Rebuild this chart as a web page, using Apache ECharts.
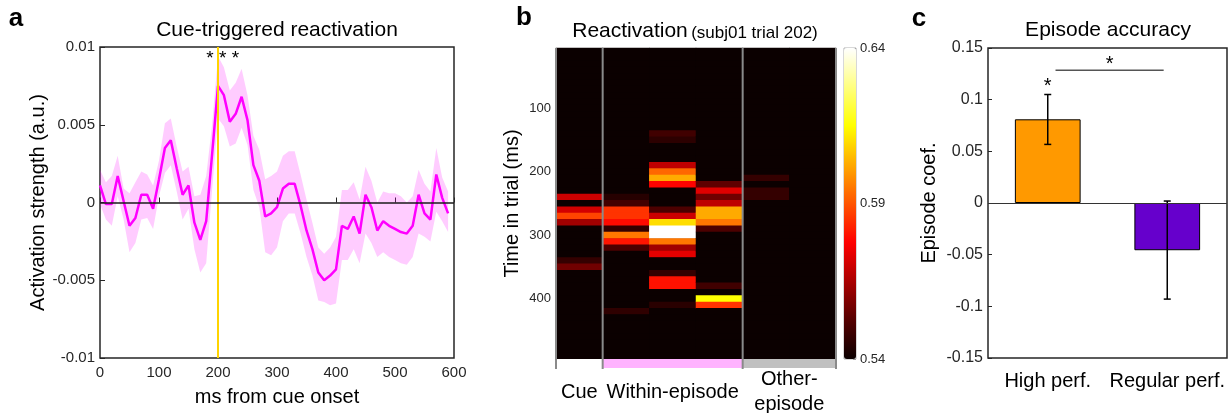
<!DOCTYPE html>
<html><head><meta charset="utf-8">
<script src="https://cdn.jsdelivr.net/npm/echarts@6/dist/echarts.min.js"></script>
<style>html,body{margin:0;padding:0;background:#fff}#c{width:1231px;height:413px}</style>
</head><body><div id="c"></div>
<script>
// ---------- Panel a: cue-triggered reactivation ----------
const timesMs = [0,10,20,30,40,50,60,70,80,90,100,110,120,130,140,150,160,170,180,190,200,210,220,230,240,250,260,270,280,290,300,310,320,330,340,350,360,370,380,390,400,410,420,430,440,450,460,470,480,490,500,510,520,530,540,550,560,570,580,590];
const meanAct = [0.0011,-0.0001,-0.0001,0.0017,0.0001,-0.0015,-0.0010,0.0005,0.0005,-0.0004,0.0015,0.0035,0.0040,0.0022,0.0005,0.0011,-0.0013,-0.0024,-0.0012,0.0031,0.0075,0.0069,0.0052,0.0057,0.0068,0.0053,0.0024,0.0014,-0.0009,-0.0007,-0.0003,0.0009,0.0012,0.0012,-0.0002,-0.0018,-0.0030,-0.0045,-0.0050,-0.0047,-0.0043,-0.0015,-0.0017,-0.0009,-0.0020,0.0005,-0.0003,-0.0018,-0.0012,-0.0015,-0.0017,-0.0019,-0.0020,-0.0015,0.0005,-0.0007,-0.0011,0.0018,0.0003,-0.0007];
const upperAct = [0.0021,0.0013,0.0017,0.0030,0.0009,0.0006,0.0013,0.0020,0.0018,0.0011,0.0027,0.0051,0.0054,0.0036,0.0020,0.0023,0.0004,0.0005,0.0017,0.0050,0.0094,0.0087,0.0072,0.0077,0.0086,0.0069,0.0043,0.0034,0.0015,0.0017,0.0020,0.0030,0.0033,0.0033,0.0018,0.0002,-0.0013,-0.0029,-0.0033,-0.0029,-0.0022,0.0008,0.0008,0.0013,0.0002,0.0023,0.0014,0.0000,0.0007,0.0006,0.0006,0.0004,0.0000,0.0004,0.0021,0.0012,0.0007,0.0035,0.0016,0.0007];
const lowerAct = [-0.0001,-0.0011,-0.0015,0.0004,-0.0011,-0.0032,-0.0026,-0.0011,-0.0010,-0.0017,0.0004,0.0019,0.0024,0.0007,-0.0011,-0.0004,-0.0030,-0.0045,-0.0039,0.0008,0.0054,0.0049,0.0036,0.0038,0.0048,0.0037,0.0008,-0.0003,-0.0032,-0.0034,-0.0029,-0.0012,-0.0007,-0.0007,-0.0020,-0.0035,-0.0047,-0.0063,-0.0064,-0.0066,-0.0065,-0.0037,-0.0037,-0.0030,-0.0039,-0.0020,-0.0026,-0.0035,-0.0032,-0.0035,-0.0037,-0.0039,-0.0040,-0.0035,-0.0020,-0.0022,-0.0025,-0.0006,-0.0012,-0.0019];
const cueOnsetMs = 200;
const sigMarkA = {ms: 208, value: 0.00925, text: '* * *'};

// ---------- Panel b: reactivation heatmap ----------
const hmColumns = ['cue','within1','within2','within3','other1','other2'];
const hmTimes = [10,20,30,40,50,60,70,80,90,100,110,120,130,140,150,160,170,180,190,200,210,220,230,240,250,260,270,280,290,300,310,320,330,340,350,360,370,380,390,400,410,420,430,440,450,460,470,480,490];
const hmBase = 0.54; // background cells (at / below colour minimum)
const hmCells = [ // [column, time ms, value]
  [0,240,0.570],[0,260,0.571],[0,270,0.5875],[0,280,0.5635],[0,340,0.547],[0,350,0.5565],
  [1,240,0.5445],[1,250,0.5494],[1,260,0.585],[1,270,0.585],[1,280,0.579],[1,290,0.547],[1,300,0.595],[1,310,0.5805],[1,320,0.551],[1,420,0.546],
  [2,140,0.549],[2,150,0.5455],[2,190,0.568],[2,200,0.5925],[2,210,0.6025],[2,220,0.578],[2,260,0.551],[2,270,0.570],[2,280,0.610],[2,290,0.64],[2,300,0.64],[2,310,0.595],[2,320,0.5635],[2,330,0.5735],[2,360,0.547],[2,370,0.58],[2,380,0.58],[2,410,0.545],
  [3,220,0.554],[3,230,0.573],[3,240,0.5565],[3,250,0.568],[3,260,0.6025],[3,270,0.6025],[3,280,0.595],[3,290,0.551],[3,380,0.549],[3,400,0.615],[3,410,0.585],
  [4,210,0.547],[4,230,0.547],[4,240,0.547]
];
const hmMin = 0.54, hmMax = 0.64;
const cbLabels = [0.54, 0.59, 0.64];
const groupLabels = ['Cue','Within-episode','Other-\nepisode'];
const groupBounds = [0,1,4,6];

// ---------- Panel c: episode accuracy ----------
const perfCats = ['High perf.','Regular perf.'];
const perfMean = [0.081,-0.0457];
const perfLow = [0.0567,-0.093];
const perfHigh = [0.105,0.0019];
const perfStarY = 0.113;
const perfSigLineY = 0.1284;

// ---------- build ----------
const hmData = [];
hmColumns.forEach((c, ci) => hmTimes.forEach((t, ri) => hmData.push([ci, ri, hmBase])));
hmCells.forEach(([c, t, v]) => { hmData[c * hmTimes.length + hmTimes.indexOf(t)][2] = v; });
const groupCenters = groupBounds.slice(0, -1).map((b, i) => (b + groupBounds[i + 1]) / 2);
const stripData = groupBounds.slice(0, -1).map((b, i) => [b, groupBounds[i + 1], i]);
const stripColors = ['#ffffff', '#ffb3ff', '#c0c0c0'];
const hot = ['#0b0000','#550000','#aa0000','#ff0000','#ff5500','#ffaa00','#ffff00','#ffff80','#ffffff'];

const FONT = 'Liberation Sans, Arial, Helvetica, sans-serif';
const AX = '#262626';
const tickLbl = (size) => ({color: AX, fontSize: size, fontFamily: FONT});

const chart = echarts.init(document.getElementById('c'), null, {renderer: 'canvas'});
chart.setOption({
  animation: false,
  textStyle: {fontFamily: FONT},
  grid: [
    {left: 100, top: 47, width: 354, height: 311, show: true, borderColor: AX, borderWidth: 1.5, backgroundColor: 'transparent', outerBoundsMode: 'none'},
    {left: 556, top: 48, width: 280, height: 311, show: true, borderWidth: 0, backgroundColor: hot[0], outerBoundsMode: 'none'},
    {left: 556, top: 359, width: 280, height: 9, outerBoundsMode: 'none'},
    {left: 844, top: 48, width: 12, height: 311, show: true, borderColor: '#b0b0b0', borderWidth: 1, backgroundColor: 'transparent', outerBoundsMode: 'none'},
    {left: 988, top: 48, width: 239, height: 310, show: true, borderColor: AX, borderWidth: 1.5, backgroundColor: 'transparent', outerBoundsMode: 'none'}
  ],
  xAxis: [
    {type: 'value', gridIndex: 0, min: 0, max: 600, interval: 100, axisLine: {show: false},
     axisTick: {inside: true, length: 5, lineStyle: {color: AX}}, splitLine: {show: false},
     axisLabel: {...tickLbl(15), margin: 7},
     name: 'ms from cue onset', nameLocation: 'middle', nameGap: 29, nameTextStyle: {fontSize: 20, color: '#000', fontFamily: FONT}},
    {type: 'category', gridIndex: 1, data: hmColumns, show: false, splitLine: {show: false}},
    {type: 'value', gridIndex: 1, min: 0, max: 6, show: false, splitLine: {show: false}},
    {type: 'value', gridIndex: 2, min: 0, max: 6, interval: 0.5, axisLine: {show: false}, axisTick: {show: false}, splitLine: {show: false},
     axisLabel: {...tickLbl(20), color: '#000', margin: 24, verticalAlign: 'middle', lineHeight: 25, showMinLabel: true, showMaxLabel: true,
       formatter: v => { const i = groupCenters.findIndex(c => Math.abs(c - v) < 1e-6); return i >= 0 ? groupLabels[i] : ''; }}},
    {type: 'category', gridIndex: 3, data: [''], show: false, splitLine: {show: false}},
    {type: 'category', gridIndex: 4, data: perfCats, axisLine: {show: false}, splitLine: {show: false},
     axisTick: {inside: true, length: 4, alignWithLabel: true, lineStyle: {color: AX}},
     axisLabel: {...tickLbl(20), color: '#000', margin: 13, interval: 0, hideOverlap: false}}
  ],
  yAxis: [
    {type: 'value', gridIndex: 0, min: -0.01, max: 0.01, interval: 0.005, axisLine: {show: false},
     axisTick: {show: true, inside: true, length: 5, lineStyle: {color: AX}}, splitLine: {show: false},
     axisLabel: {...tickLbl(15), margin: 5, formatter: v => String(parseFloat(v.toFixed(4)))},
     name: 'Activation strength (a.u.)', nameLocation: 'middle', nameGap: 49, nameTextStyle: {fontSize: 20, color: '#000', fontFamily: FONT}},
    {type: 'category', gridIndex: 1, data: hmTimes.map(String), inverse: true, axisLine: {show: false}, axisTick: {show: false}, splitLine: {show: false},
     axisLabel: {...tickLbl(13), margin: 5, interval: (i, v) => Number(v) % 100 === 0},
     name: 'Time in trial (ms)', nameLocation: 'middle', nameGap: 34, nameTextStyle: {fontSize: 20, color: '#000', fontFamily: FONT}},
    {type: 'value', gridIndex: 1, min: 0, max: 1, show: false, splitLine: {show: false}},
    {type: 'value', gridIndex: 2, min: 0, max: 1, show: false, splitLine: {show: false}},
    {type: 'value', gridIndex: 3, min: hmMin, max: hmMax, interval: 0.01, position: 'right', axisLine: {show: false},
     axisTick: {show: true, inside: true, length: 3, lineStyle: {color: '#999'}}, splitLine: {show: false},
     axisLabel: {...tickLbl(13), margin: 4, showMinLabel: true, showMaxLabel: true,
       formatter: v => cbLabels.some(x => Math.abs(x - v) < 1e-6) ? v.toFixed(2) : ''}},
    {type: 'value', gridIndex: 4, min: -0.15, max: 0.15, interval: 0.05, axisLine: {show: false},
     axisTick: {show: true, inside: true, length: 4, lineStyle: {color: AX}}, splitLine: {show: false},
     axisLabel: {...tickLbl(16), margin: 5, formatter: v => String(parseFloat(v.toFixed(3)))},
     name: 'Episode coef.', nameLocation: 'middle', nameGap: 49, nameTextStyle: {fontSize: 20, color: '#000', fontFamily: FONT}}
  ],
  visualMap: [{
    type: 'continuous', seriesIndex: 2, min: hmMin, max: hmMax, calculable: false, realtime: false,
    orient: 'vertical', left: 844, top: 48, itemWidth: 12, itemHeight: 311, padding: 0, text: null,
    inRange: {color: hot}, hoverLink: false
  }],
  series: [
    { // SEM band + reference lines
      type: 'custom', xAxisIndex: 0, yAxisIndex: 0, silent: true, z: 1,
      data: timesMs.map((t, i) => [t, lowerAct[i], upperAct[i]]),
      encode: {x: 0, y: [1, 2]},
      renderItem: (params, api) => {
        if (params.dataIndex !== 0) return null;
        const top = timesMs.map((t, i) => api.coord([t, upperAct[i]]));
        const bot = timesMs.map((t, i) => api.coord([t, lowerAct[i]])).reverse();
        return {type: 'polygon', shape: {points: top.concat(bot)}, style: {fill: 'rgba(255,0,255,0.2)', stroke: 'none'}};
      },
      markLine: {silent: true, symbol: ['none', 'none'], label: {show: false},
        data: [
          {xAxis: cueOnsetMs, lineStyle: {color: '#ffd400', width: 2, type: 'solid'}},
          {yAxis: 0, lineStyle: {color: '#1a1a1a', width: 1.5, type: 'solid'}}
        ]}
    },
    { // mean
      type: 'line', xAxisIndex: 0, yAxisIndex: 0, z: 3, silent: true, showSymbol: false, symbol: 'none',
      data: timesMs.map((t, i) => [t, meanAct[i]]),
      lineStyle: {color: '#ff00ff', width: 2.5},
      markPoint: {symbol: 'circle', symbolSize: 0, silent: true,
        label: {show: true, position: 'inside', formatter: sigMarkA.text, fontSize: 19, color: '#000', fontFamily: FONT},
        data: [{coord: [sigMarkA.ms, sigMarkA.value]}]}
    },
    { // heatmap
      type: 'heatmap', xAxisIndex: 1, yAxisIndex: 1, data: hmData, silent: true,
      emphasis: {disabled: true}, progressive: 0
    },
    { // group separators
      type: 'custom', xAxisIndex: 2, yAxisIndex: 2, silent: true, z: 5, clip: false,
      data: groupBounds.map(b => [b, 0, 1]),
      renderItem: (params, api) => {
        const a = api.coord([api.value(0), 0]), b = api.coord([api.value(0), 1]);
        return {type: 'line', shape: {x1: a[0], y1: a[1], x2: b[0], y2: b[1]}, style: {stroke: '#8a8a8a', lineWidth: 2}};
      }
    },
    { // group strip
      type: 'custom', xAxisIndex: 3, yAxisIndex: 3, silent: true, z: 5, clip: false,
      data: stripData,
      renderItem: (params, api) => {
        const p0 = api.coord([api.value(0), 1]), p1 = api.coord([api.value(1), 0]);
        const kids = [
          {type: 'rect', shape: {x: p0[0], y: p0[1], width: p1[0] - p0[0], height: p1[1] - p0[1]}, style: {fill: stripColors[api.value(2)]}},
          {type: 'line', shape: {x1: p0[0], y1: p0[1], x2: p0[0], y2: p1[1] + 1}, style: {stroke: '#8a8a8a', lineWidth: 2}}
        ];
        if (params.dataIndex === stripData.length - 1) kids.push({type: 'line', shape: {x1: p1[0], y1: p0[1], x2: p1[0], y2: p1[1] + 1}, style: {stroke: '#8a8a8a', lineWidth: 2}});
        return {type: 'group', children: kids};
      }
    },
    { // bars
      type: 'bar', xAxisIndex: 5, yAxisIndex: 5, barWidth: '55%', silent: true, z: 2,
      data: perfMean.map((v, i) => ({value: v, itemStyle: {color: i === 0 ? '#ff9900' : '#6600cc', borderColor: '#000', borderWidth: 1}})),
      markLine: {silent: true, symbol: ['none', 'none'], label: {show: false},
        data: [{yAxis: 0, lineStyle: {color: '#333', width: 1.2, type: 'solid'}}]},
      markPoint: {symbol: 'circle', symbolSize: 0, silent: true,
        label: {show: true, position: 'inside', formatter: '*', fontSize: 20, color: '#000', fontFamily: FONT},
        data: [{coord: [0, perfStarY]}]}
    },
    { // error bars
      type: 'custom', xAxisIndex: 5, yAxisIndex: 5, silent: true, z: 4,
      data: perfCats.map((c, i) => [i, perfLow[i], perfHigh[i]]),
      encode: {x: 0, y: [1, 2]},
      renderItem: (params, api) => {
        const lo = api.coord([api.value(0), api.value(1)]), hi = api.coord([api.value(0), api.value(2)]);
        const st = {stroke: '#000', lineWidth: 1.5}, cap = 3.5;
        return {type: 'group', children: [
          {type: 'line', shape: {x1: lo[0], y1: lo[1], x2: hi[0], y2: hi[1]}, style: st},
          {type: 'line', shape: {x1: lo[0] - cap, y1: lo[1], x2: lo[0] + cap, y2: lo[1]}, style: st},
          {type: 'line', shape: {x1: hi[0] - cap, y1: hi[1], x2: hi[0] + cap, y2: hi[1]}, style: st}
        ]};
      }
    },
    { // significance bracket between groups
      type: 'custom', xAxisIndex: 5, yAxisIndex: 5, silent: true, z: 4,
      data: [[0, 1, perfSigLineY]],
      renderItem: (params, api) => {
        const a = api.coord([api.value(0), api.value(2)]), b = api.coord([api.value(1), api.value(2)]);
        const x1 = a[0] + 0.065 * (b[0] - a[0]), x2 = a[0] + 0.97 * (b[0] - a[0]);
        return {type: 'group', children: [
          {type: 'line', shape: {x1, y1: a[1], x2, y2: a[1]}, style: {stroke: '#555', lineWidth: 1.5}},
          {type: 'text', x: (x1 + x2) / 2, y: a[1] - 6, style: {text: '*', font: '20px ' + FONT, fill: '#000', align: 'center', verticalAlign: 'middle'}}
        ]};
      }
    }
  ],
  graphic: [
    {type: 'text', x: 16, y: 19, style: {text: 'a', font: 'bold 26px ' + FONT, fill: '#000', align: 'center', verticalAlign: 'middle'}},
    {type: 'text', x: 524, y: 18, style: {text: 'b', font: 'bold 26px ' + FONT, fill: '#000', align: 'center', verticalAlign: 'middle'}},
    {type: 'text', x: 919, y: 19, style: {text: 'c', font: 'bold 26px ' + FONT, fill: '#000', align: 'center', verticalAlign: 'middle'}},
    {type: 'text', x: 277, y: 30, style: {text: 'Cue-triggered reactivation', font: '21px ' + FONT, fill: '#000', align: 'center', verticalAlign: 'middle'}},
    {type: 'text', x: 695, y: 30, style: {text: '{m|Reactivation} {s|(subj01 trial 202)}', align: 'center', verticalAlign: 'middle',
      rich: {m: {fontSize: 21, fontFamily: FONT, fill: '#000', verticalAlign: 'bottom', lineHeight: 24}, s: {fontSize: 17, fontFamily: FONT, fill: '#000', verticalAlign: 'bottom', lineHeight: 24}}}},
    {type: 'text', x: 1108, y: 30, style: {text: 'Episode accuracy', font: '21px ' + FONT, fill: '#000', align: 'center', verticalAlign: 'middle'}}
  ]
});
</script></body></html>
